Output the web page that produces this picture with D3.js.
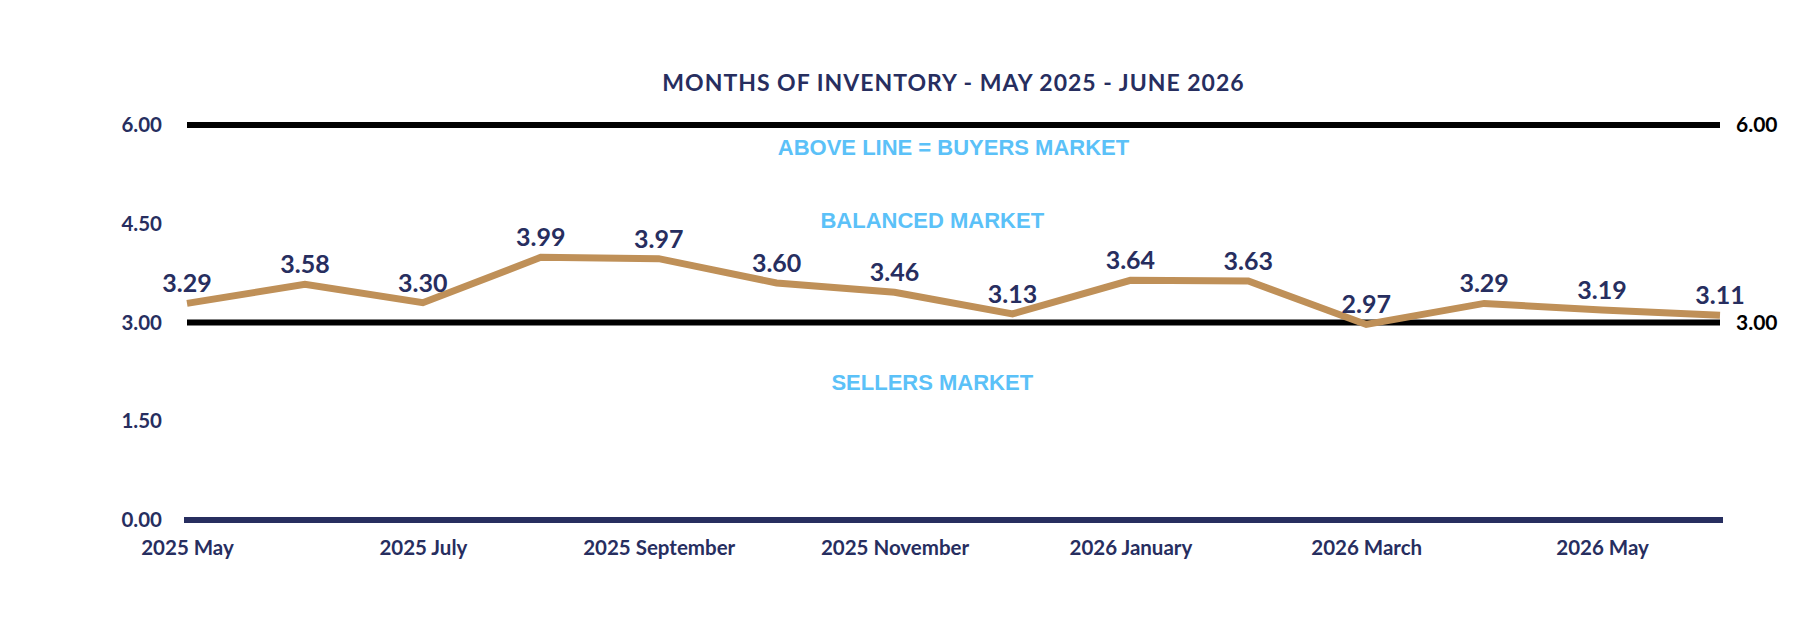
<!DOCTYPE html>
<html>
<head>
<meta charset="utf-8">
<script src="https://cdn.jsdelivr.net/npm/d3@7"></script>
<style>
  body { margin: 0; background: #fff; }
  svg { display: block; font-family: Lato, "Open Sans", sans-serif; }
</style>
</head>
<body>
<svg></svg>
<script>
const size = {w: 1818, h: 640};
const margin = {t: 125, r: 98, b: 120, l: 187};

// data
const months = ['2025 May', '2025 June', '2025 July', '2025 August', '2025 September',
    '2025 October', '2025 November', '2025 December', '2026 January', '2026 February',
    '2026 March', '2026 April', '2026 May', '2026 June'];
const inventory = [3.29, 3.58, 3.30, 3.99, 3.97, 3.60, 3.46, 3.13, 3.64, 3.63, 2.97, 3.29, 3.19, 3.11];
const yTicks = [0, 1.5, 3, 4.5, 6];
const refLines = [6, 3];
const zones = [
    {label: 'ABOVE LINE = BUYERS MARKET', x: 6.5, y: 5.67},
    {label: 'BALANCED MARKET', x: 6.32, y: 4.56},
    {label: 'SELLERS MARKET', x: 6.32, y: 2.09}
];
const title = 'MONTHS OF INVENTORY - MAY 2025 - JUNE 2026';

const navy = '#272e5f';
const tan = '#bf9058';
const sky = '#5bc1f8';

const svg = d3.select('svg')
    .attr('width', size.w)
    .attr('height', size.h);

const plotW = size.w - margin.l - margin.r;
const plotH = size.h - margin.t - margin.b;

const x = d3.scaleLinear()
    .domain([0, months.length - 1])
    .range([margin.l, margin.l + plotW]);

const y = d3.scaleLinear()
    .domain([0, 6])
    .range([margin.t + plotH, margin.t]);

// title
svg.append('text')
    .attr('x', x((months.length - 1) / 2))
    .attr('y', 91)
    .attr('text-anchor', 'middle')
    .attr('fill', navy)
    .attr('font-size', 23)
    .attr('font-weight', 'bold')
    .attr('letter-spacing', 1)
    .text(title);

// left axis labels
const yAxis = d3.axisLeft(y)
    .tickValues(yTicks)
    .tickFormat(d3.format('.2f'))
    .tickSize(0)
    .tickPadding(25);

const yG = svg.append('g')
    .attr('transform', `translate(${margin.l},0)`)
    .call(yAxis);
yG.select('.domain').remove();
yG.selectAll('text')
    .attr('fill', navy)
    .attr('font-size', 20.5)
    .attr('font-weight', 'bold')
    .attr('font-family', 'Lato, sans-serif');

// bottom axis: baseline + every other month
const xAxis = d3.axisBottom(x)
    .tickValues(d3.range(0, months.length, 2))
    .tickFormat(i => months[i])
    .tickSize(0)
    .tickPadding(20);

const xG = svg.append('g')
    .attr('transform', `translate(0,${y(0)})`)
    .call(xAxis);
xG.select('.domain').remove();
xG.selectAll('text')
    .attr('fill', navy)
    .attr('font-size', 20.5)
    .attr('font-weight', 'bold')
    .attr('font-family', 'Lato, sans-serif');

svg.append('line')
    .attr('x1', x(0) - 3)
    .attr('x2', x(months.length - 1) + 3)
    .attr('y1', y(0))
    .attr('y2', y(0))
    .attr('stroke', navy)
    .attr('stroke-width', 6);

// reference lines at 3 and 6
svg.selectAll('.ref')
    .data(refLines)
    .enter()
    .append('line')
    .classed('ref', true)
    .attr('x1', x(0))
    .attr('x2', x(months.length - 1))
    .attr('y1', d => y(d))
    .attr('y2', d => y(d))
    .attr('stroke', '#000')
    .attr('stroke-width', 6);

svg.selectAll('.ref-label')
    .data(refLines)
    .enter()
    .append('text')
    .classed('ref-label', true)
    .attr('x', x(months.length - 1) + 16)
    .attr('y', d => y(d))
    .attr('dy', '0.35em')
    .attr('fill', '#000')
    .attr('font-size', 21)
    .attr('font-weight', 'bold')
    .text(d => d3.format('.2f')(d));

// zone annotations
svg.selectAll('.zone')
    .data(zones)
    .enter()
    .append('text')
    .classed('zone', true)
    .attr('x', d => x(d.x))
    .attr('y', d => y(d.y))
    .attr('dy', '0.36em')
    .attr('text-anchor', 'middle')
    .attr('fill', sky)
    .attr('font-family', '"Liberation Sans", Arial, sans-serif')
    .attr('font-size', 22)
    .attr('font-weight', 'bold')
    .text(d => d.label);

// the series line
const line = d3.line()
    .x((d, i) => x(i))
    .y(d => y(d));

svg.append('path')
    .datum(inventory)
    .attr('d', line)
    .attr('fill', 'none')
    .attr('stroke', tan)
    .attr('stroke-width', 7);

// value labels
svg.selectAll('.val')
    .data(inventory)
    .enter()
    .append('text')
    .classed('val', true)
    .attr('x', (d, i) => x(i))
    .attr('y', d => y(d) - 11)
    .attr('text-anchor', 'middle')
    .attr('fill', navy)
    .attr('font-size', 25)
    .attr('font-weight', 'bold')
    .text(d => d3.format('.2f')(d));
</script>
</body>
</html>
